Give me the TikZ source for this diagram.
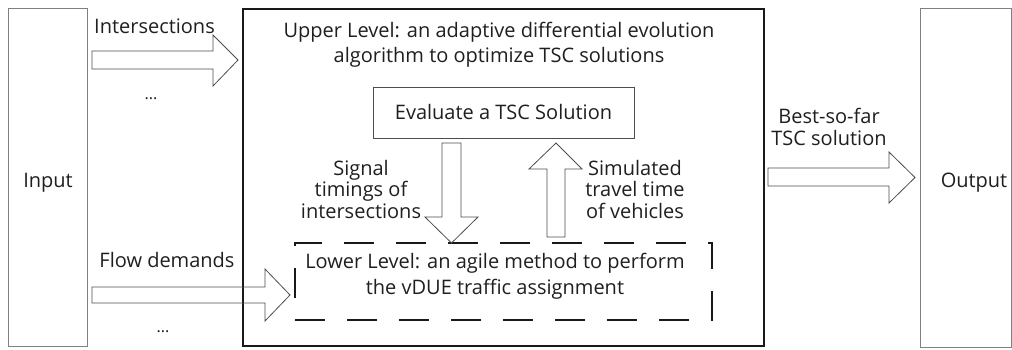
\documentclass[tikz,border=0pt]{standalone}
\usepackage{fontspec}
\setmainfont{Open Sans}
\begin{document}
\begin{tikzpicture}[x=1pt,y=-1pt,
  txt/.style={font=\fontsize{20}{22}\selectfont, text=black!88, inner sep=0pt, align=center},
  panel/.style={draw=black!50, line width=0.9pt, inner sep=0pt, outer sep=0pt},
  mainbox/.style={draw=black!90, line width=1.8pt, inner sep=0pt, outer sep=0pt},
  evalbox/.style={draw=black!70, line width=0.9pt, inner sep=0pt, outer sep=0pt},
  lowerbox/.style={draw=black!90, line width=1.8pt, dash pattern=on 30pt off 22pt, inner sep=0pt, outer sep=0pt},
  blockarrow/.style={draw=black!70, line width=0.8pt, line join=miter}]
\useasboundingbox (0,0) rectangle (1012,349);

% frames
\node[panel, minimum width=79pt, minimum height=338pt] (input) at (47.5,177) {};
\node[mainbox, minimum width=521pt, minimum height=337pt] (upper) at (503.5,177.5) {};
\node[panel, minimum width=91pt, minimum height=339pt] (output) at (965.5,177.5) {};
\node[evalbox, minimum width=261pt, minimum height=51pt] (eval) at (503.5,112.5) {};
\node[lowerbox, minimum width=417pt, minimum height=77pt] (lower) at (503.5,281.5) {};

% texts (multi-line nodes are anchored at the baseline of their last line)
\node[txt, anchor=base] (intxt) at (48,187) {Input};
\node[txt, anchor=base] (outtxt) at (974,187) {Output};
\node[txt, anchor=base] (evaltxt) at (503.5,119) {Evaluate a TSC Solution};
\node[txt, anchor=base, font=\fontsize{20}{24.5}\selectfont] (uppertxt) at (499,62)
  {Upper Level: an adaptive differential evolution\\algorithm to optimize TSC solutions};
\node[txt, anchor=base, font=\fontsize{20}{25.5}\selectfont] (lowertxt) at (495,294)
  {Lower Level: an agile method to perform\\the vDUE traffic assignment};
\node[txt, anchor=base] (intlbl) at (154.5,33) {Intersections};
\node[txt, anchor=base, font=\fontsize{16}{20}\selectfont] (dots1) at (151,99) {...};
\node[txt, anchor=base] (flowlbl) at (167,267) {Flow demands};
\node[txt, anchor=base, font=\fontsize{16}{20}\selectfont] (dots2) at (163,332) {...};
\node[txt, anchor=base, font=\fontsize{20}{21.5}\selectfont] (siglbl) at (361,218)
  {Signal\\timings of\\intersections};
\node[txt, anchor=base, font=\fontsize{20}{21.5}\selectfont] (simlbl) at (635,218)
  {Simulated\\travel time\\of vehicles};
\node[txt, anchor=base, font=\fontsize{20}{22}\selectfont] (bestlbl) at (829,145)
  {Best-so-far\\TSC solution};

% block arrows
\draw[blockarrow] (92,51) -- (213,51) -- (213,35) -- (238,60) -- (213,86) -- (213,69) -- (92,69) -- cycle;
\draw[blockarrow] (92,287) -- (265,287) -- (265,269) -- (290,295) -- (265,321) -- (265,303) -- (92,303) -- cycle;
\draw[blockarrow] (768,168) -- (889,168) -- (889,152) -- (915,177.5) -- (889,203) -- (889,186) -- (768,186) -- cycle;
\draw[blockarrow] (442,143) -- (461,143) -- (461,217) -- (478,217) -- (451.5,243) -- (425,217) -- (442,217) -- cycle;
\draw[blockarrow] (547,237) -- (547,169) -- (529,169) -- (556,143) -- (582,169) -- (565,169) -- (565,237) -- cycle;
\end{tikzpicture}
\end{document}
